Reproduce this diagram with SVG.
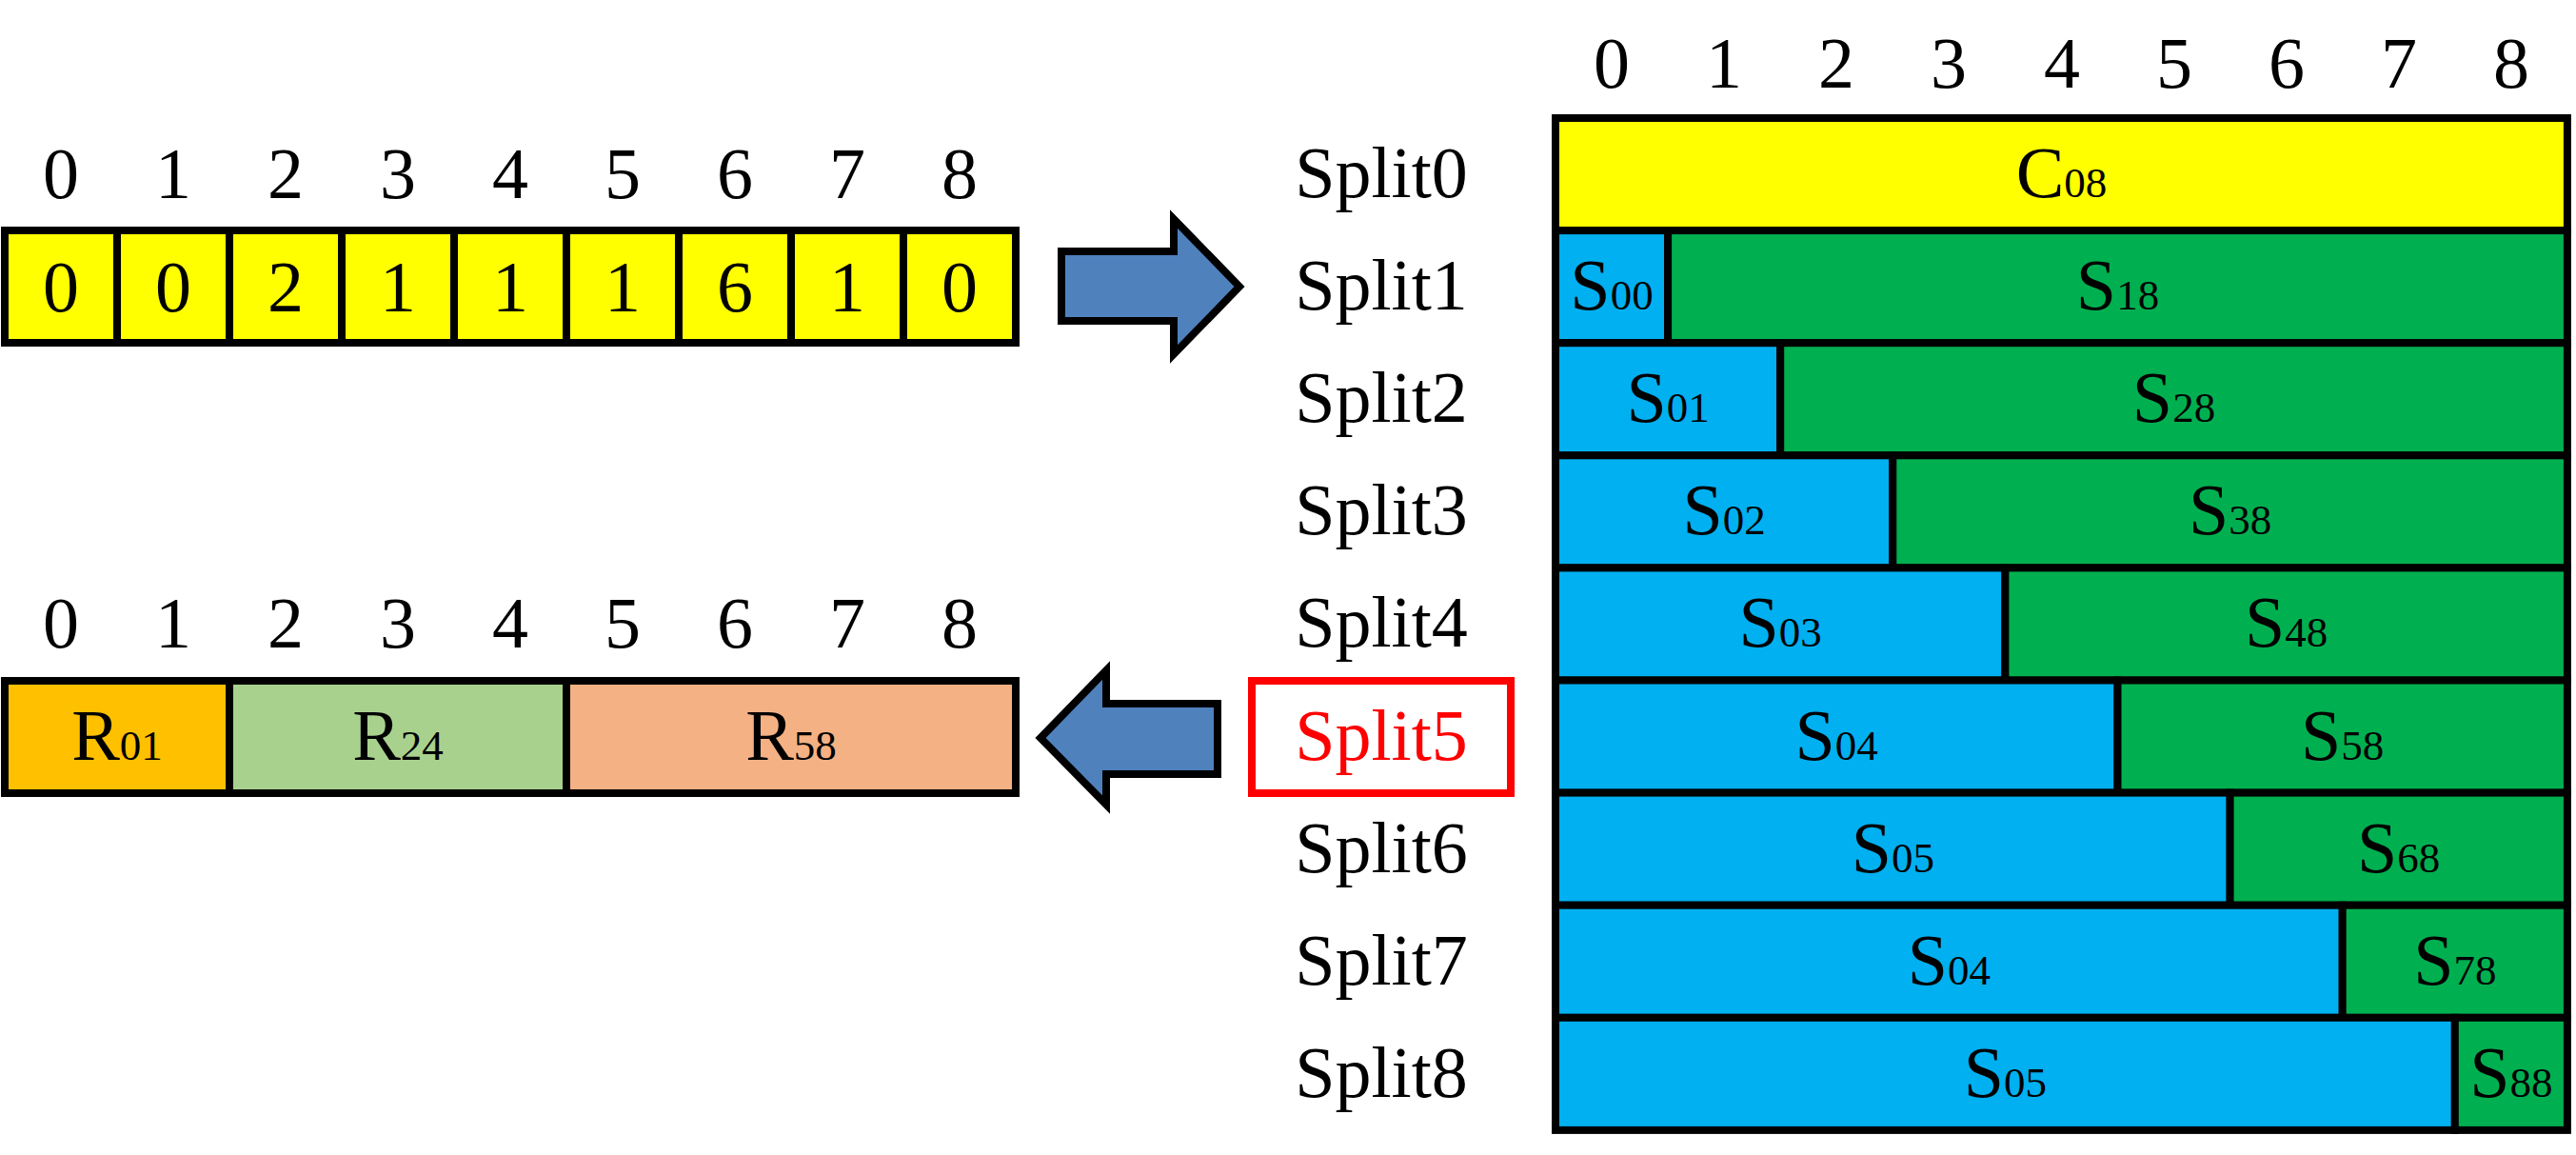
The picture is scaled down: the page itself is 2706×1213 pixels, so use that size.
<svg xmlns="http://www.w3.org/2000/svg" width="2706" height="1213" viewBox="0 0 2706 1213">
<style>
text{font-family:"Liberation Serif","Times New Roman",serif;fill:#000;text-anchor:middle}
.n{font-size:76px}
.s{font-size:45px}
.c{stroke:#000;stroke-width:8}
.y{fill:#FFFF00}.b{fill:#00B0F0}.g{fill:#00B050}
.o{fill:#FFC000}.lg{fill:#A9D18E}.sa{fill:#F4B183}
.arrow{fill:#4F81BD;stroke:#000;stroke-width:8;stroke-linejoin:miter}
</style>
<rect width="2706" height="1213" fill="#fff"/>

<g id="input-array">
<g class="n">
<text x="64" y="208">0</text><text x="182" y="208">1</text><text x="300" y="208">2</text><text x="418" y="208">3</text><text x="536" y="208">4</text><text x="654" y="208">5</text><text x="772" y="208">6</text><text x="890" y="208">7</text><text x="1008" y="208">8</text>
</g>
<rect class="c y" x="5" y="242" width="118" height="118"/>
<rect class="c y" x="123" y="242" width="118" height="118"/>
<rect class="c y" x="241" y="242" width="118" height="118"/>
<rect class="c y" x="359" y="242" width="118" height="118"/>
<rect class="c y" x="477" y="242" width="118" height="118"/>
<rect class="c y" x="595" y="242" width="118" height="118"/>
<rect class="c y" x="713" y="242" width="118" height="118"/>
<rect class="c y" x="831" y="242" width="118" height="118"/>
<rect class="c y" x="949" y="242" width="118" height="118"/>
<g class="n">
<text x="64" y="327">0</text><text x="182" y="327">0</text><text x="300" y="327">2</text><text x="418" y="327">1</text><text x="536" y="327">1</text><text x="654" y="327">1</text><text x="772" y="327">6</text><text x="890" y="327">1</text><text x="1008" y="327">0</text>
</g>
</g>

<g id="result-array">
<g class="n">
<text x="64" y="680">0</text><text x="182" y="680">1</text><text x="300" y="680">2</text><text x="418" y="680">3</text><text x="536" y="680">4</text><text x="654" y="680">5</text><text x="772" y="680">6</text><text x="890" y="680">7</text><text x="1008" y="680">8</text>
</g>
<rect class="c o" x="5" y="715" width="236" height="118"/>
<rect class="c lg" x="241" y="715" width="354" height="118"/>
<rect class="c sa" x="595" y="715" width="472" height="118"/>
<text class="n" x="123" y="798">R<tspan class="s">01</tspan></text>
<text class="n" x="418" y="798">R<tspan class="s">24</tspan></text>
<text class="n" x="831" y="798">R<tspan class="s">58</tspan></text>
</g>

<g id="split-labels">
<g class="n">
<text x="1451" y="207">Split0</text>
<text x="1451" y="325">Split1</text>
<text x="1451" y="443">Split2</text>
<text x="1451" y="561">Split3</text>
<text x="1451" y="679">Split4</text>
<text x="1451" y="798" style="fill:#FF0000">Split5</text>
<text x="1451" y="916">Split6</text>
<text x="1451" y="1034">Split7</text>
<text x="1451" y="1152">Split8</text>
</g>
<rect x="1315" y="715" width="272" height="118" fill="none" stroke="#FF0000" stroke-width="8"/>
</g>

<g id="split-grid">
<g class="n">
<text x="1693" y="92">0</text><text x="1811" y="92">1</text><text x="1929" y="92">2</text><text x="2047" y="92">3</text><text x="2166" y="92">4</text><text x="2284" y="92">5</text><text x="2402" y="92">6</text><text x="2520" y="92">7</text><text x="2638" y="92">8</text>
</g>
<rect class="c y" x="1634" y="124" width="1062.9" height="118.1"/>
<text class="n" x="2165.5" y="207">C<tspan class="s">08</tspan></text>

<rect class="c b" x="1634" y="242.1" width="118.1" height="118.1"/>
<rect class="c g" x="1752.1" y="242.1" width="944.8" height="118.1"/>
<text class="n" x="1693" y="325">S<tspan class="s">00</tspan></text>
<text class="n" x="2224.5" y="325">S<tspan class="s">18</tspan></text>

<rect class="c b" x="1634" y="360.2" width="236.2" height="118.1"/>
<rect class="c g" x="1870.2" y="360.2" width="826.7" height="118.1"/>
<text class="n" x="1752.1" y="443">S<tspan class="s">01</tspan></text>
<text class="n" x="2283.5" y="443">S<tspan class="s">28</tspan></text>

<rect class="c b" x="1634" y="478.3" width="354.3" height="118.1"/>
<rect class="c g" x="1988.3" y="478.3" width="708.6" height="118.1"/>
<text class="n" x="1811.1" y="561">S<tspan class="s">02</tspan></text>
<text class="n" x="2342.6" y="561">S<tspan class="s">38</tspan></text>

<rect class="c b" x="1634" y="596.4" width="472.4" height="118.1"/>
<rect class="c g" x="2106.4" y="596.4" width="590.5" height="118.1"/>
<text class="n" x="1870.2" y="679">S<tspan class="s">03</tspan></text>
<text class="n" x="2401.6" y="679">S<tspan class="s">48</tspan></text>

<rect class="c b" x="1634" y="714.5" width="590.5" height="118.1"/>
<rect class="c g" x="2224.5" y="714.5" width="472.4" height="118.1"/>
<text class="n" x="1929.2" y="798">S<tspan class="s">04</tspan></text>
<text class="n" x="2460.7" y="798">S<tspan class="s">58</tspan></text>

<rect class="c b" x="1634" y="832.6" width="708.6" height="118.1"/>
<rect class="c g" x="2342.6" y="832.6" width="354.3" height="118.1"/>
<text class="n" x="1988.3" y="916">S<tspan class="s">05</tspan></text>
<text class="n" x="2519.7" y="916">S<tspan class="s">68</tspan></text>

<rect class="c b" x="1634" y="950.7" width="826.7" height="118.1"/>
<rect class="c g" x="2460.7" y="950.7" width="236.2" height="118.1"/>
<text class="n" x="2047.3" y="1034">S<tspan class="s">04</tspan></text>
<text class="n" x="2578.8" y="1034">S<tspan class="s">78</tspan></text>

<rect class="c b" x="1634" y="1068.8" width="944.8" height="118.1"/>
<rect class="c g" x="2578.8" y="1068.8" width="118.1" height="118.1"/>
<text class="n" x="2106.4" y="1152">S<tspan class="s">05</tspan></text>
<text class="n" x="2637.8" y="1152">S<tspan class="s">88</tspan></text>
</g>

<g id="connectors">
<polygon class="arrow" points="1115,264 1233,264 1233,230 1302,301 1233,372 1233,337 1115,337"/>
<polygon class="arrow" points="1279,739 1162,739 1162,704 1093,775 1162,845 1162,813 1279,813"/>
</g>
</svg>
